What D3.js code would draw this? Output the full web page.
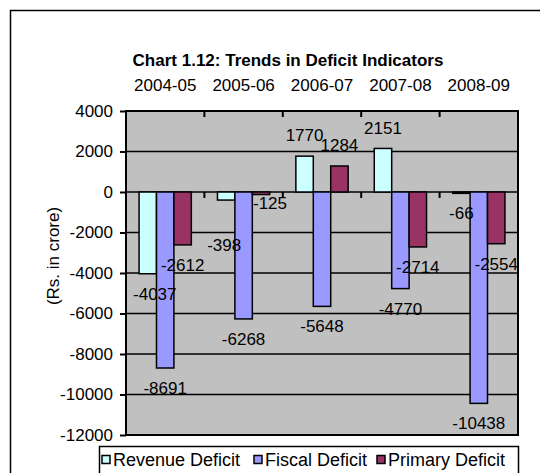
<!DOCTYPE html>
<html>
<head>
<meta charset="utf-8">
<script src="https://cdnjs.cloudflare.com/ajax/libs/d3/7.8.5/d3.min.js"></script>
<style>
  html, body { margin: 0; padding: 0; background: #fff; }
  svg { display: block; font-family: "Liberation Sans", Arial, sans-serif; }
</style>
</head>
<body>
<svg id="chart" width="540" height="473"></svg>
<script>
// ---- data ----
const categories = ["2004-05", "2005-06", "2006-07", "2007-08", "2008-09"];
const seriesNames = ["Revenue Deficit", "Fiscal Deficit", "Primary Deficit"];
const revenueDeficit = [-4037, -398, 1770, 2151, -66];
const fiscalDeficit  = [-8691, -6268, -5648, -4770, -10438];
const primaryDeficit = [-2612, -125, 1284, -2714, -2554];
const yTicks = [4000, 2000, 0, -2000, -4000, -6000, -8000, -10000, -12000];
const chartTitle = "Chart 1.12: Trends in Deficit Indicators";
const yTitle = "(Rs. in crore)";

// ---- style ----
const FONT = '"Liberation Sans", Arial, sans-serif';
const colors = ["#CCFFFF", "#9999FF", "#993366"];
const plotBg = "#C0C0C0";
const labelNudge = { // label placement tweaks (px) keyed "series|category"
  "0|0": [7, 0], "0|1": [-2, 25], "2|1": [9, -12]
};

const series = [revenueDeficit, fiscalDeficit, primaryDeficit];
const svg = d3.select("#chart");

// outer frame
svg.append("rect").attr("x", 10.5).attr("y", 10.5).attr("width", 560).attr("height", 500)
  .attr("fill", "none").attr("stroke", "#000").attr("stroke-width", 1.5);

const plot = { left: 126, right: 518, top: 111, bottom: 435 };

const x = d3.scaleBand().domain(categories).range([plot.left, plot.right]).paddingInner(0).paddingOuter(0);
const barW = x.bandwidth() / 4.5;
const xs = d3.scaleBand().domain(d3.range(series.length))
  .range([0.75 * barW, 0.75 * barW + 3 * barW]).padding(0);
const y = d3.scaleLinear().domain([-12000, 4000]).range([plot.bottom, plot.top]);

// plot background
svg.append("rect").attr("x", plot.left).attr("y", plot.top)
  .attr("width", plot.right - plot.left).attr("height", plot.bottom - plot.top)
  .attr("fill", plotBg);

// gridlines
svg.append("g").selectAll("line").data(yTicks.filter(t => t < 4000 && t > -12000)).join("line")
  .attr("x1", plot.left).attr("x2", plot.right)
  .attr("y1", d => y(d)).attr("y2", d => y(d))
  .attr("stroke", "#000").attr("stroke-width", 1.5);

// bars
series.forEach((vals, si) => {
  svg.append("g").selectAll("rect").data(vals).join("rect")
    .attr("x", (d, i) => x(categories[i]) + xs(si))
    .attr("width", xs.bandwidth())
    .attr("y", d => Math.min(y(d), y(0)))
    .attr("height", d => Math.abs(y(d) - y(0)))
    .attr("fill", colors[si]).attr("stroke", "#000").attr("stroke-width", 1.5);
});

// category ticks (top and at zero)
const bounds = categories.slice(1).map(c => x(c));
svg.append("g").selectAll("line").data(bounds).join("line")
  .attr("x1", d => d).attr("x2", d => d).attr("y1", plot.top).attr("y2", plot.top + 6)
  .attr("stroke", "#000").attr("stroke-width", 2);
svg.append("g").selectAll("line").data(bounds).join("line")
  .attr("x1", d => d).attr("x2", d => d).attr("y1", y(0)).attr("y2", y(0) + 6)
  .attr("stroke", "#000").attr("stroke-width", 2);

// plot border
svg.append("rect").attr("x", plot.left).attr("y", plot.top)
  .attr("width", plot.right - plot.left).attr("height", plot.bottom - plot.top)
  .attr("fill", "none").attr("stroke", "#000").attr("stroke-width", 2);

// y axis
const yAxis = d3.axisLeft(y).tickValues(yTicks).tickSize(6).tickPadding(7).tickFormat(d => String(d));
const ya = svg.append("g").attr("transform", `translate(${plot.left},0)`).call(yAxis)
  .attr("font-family", FONT);
ya.select(".domain").remove();
ya.selectAll(".tick line").attr("stroke", "#000").attr("stroke-width", 2);
ya.selectAll(".tick text").attr("font-size", 17).attr("fill", "#000");

// category labels at top
const xa = svg.append("g").attr("transform", `translate(0,${plot.top})`)
  .call(d3.axisTop(x).tickSize(0).tickPadding(0)).attr("font-family", FONT);
xa.select(".domain").remove();
xa.selectAll(".tick text").attr("y", -20).attr("dy", 0).attr("font-size", 17).attr("fill", "#000");

// title
svg.append("text").attr("x", 288).attr("y", 66).attr("text-anchor", "middle")
  .attr("font-size", 17).attr("font-weight", "bold").text(chartTitle);

// y title
svg.append("text").attr("transform", "translate(59,256) rotate(-90)")
  .attr("text-anchor", "middle").attr("font-size", 17).text(yTitle);

// data labels
series.forEach((vals, si) => {
  svg.append("g").selectAll("text").data(vals).join("text")
    .attr("x", (d, i) => x(categories[i]) + xs(si) + xs.bandwidth() / 2 + ((labelNudge[si + "|" + i] || [0, 0])[0]))
    .attr("y", (d, i) => y(d) + (d < 0 ? 20 : -21) + ((labelNudge[si + "|" + i] || [0, 0])[1]))
    .attr("dy", "0.36em")
    .attr("text-anchor", "middle").attr("font-size", 17).attr("fill", "#000")
    .text(d => String(d));
});

// legend
const lg = svg.append("g");
lg.append("rect").attr("x", 99.5).attr("y", 446.5).attr("width", 419).attr("height", 40)
  .attr("fill", "#fff").attr("stroke", "#000").attr("stroke-width", 1.5);
const legendX = [102, 254, 377];
seriesNames.forEach((n, i) => {
  lg.append("rect").attr("x", legendX[i]).attr("y", 455.5).attr("width", 8).attr("height", 8)
    .attr("fill", colors[i]).attr("stroke", "#000").attr("stroke-width", 1.5);
  lg.append("text").attr("x", legendX[i] + 11).attr("y", 466).attr("font-size", 18).text(n);
});
</script>
</body>
</html>
